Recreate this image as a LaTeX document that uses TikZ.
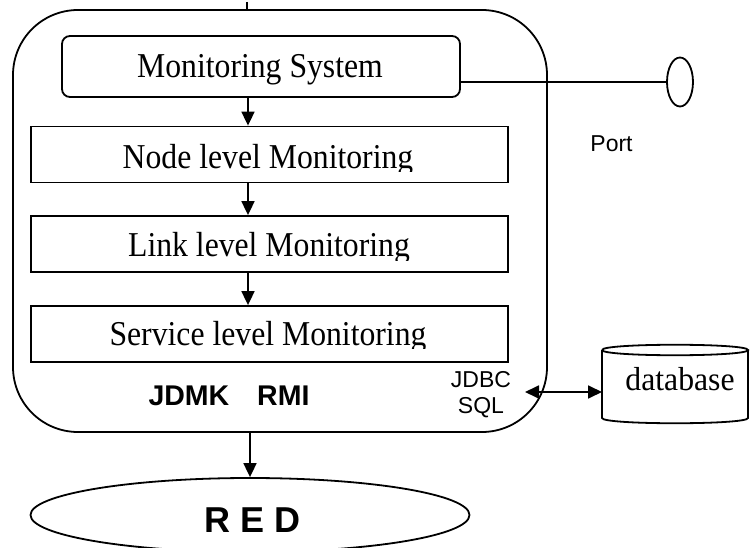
\documentclass[tikz,border=0pt]{standalone}
\usepackage{fontspec}
\setmainfont{Liberation Serif}
\setsansfont{Liberation Sans}
\usetikzlibrary{arrows.meta,shapes.geometric}
\begin{document}
\begin{tikzpicture}[x=1pt,y=-1pt,line width=1.8pt,
  box/.style={draw,inner sep=0pt,minimum width=477pt,minimum height=56pt},
  boxtext/.style={inner sep=0pt,anchor=base,font=\fontsize{31.7}{36}\selectfont},
  lbl/.style={inner sep=0pt,font=\sffamily\fontsize{23}{26}\selectfont},
  arr/.style={-{Triangle[length=14pt,width=13pt]}},
  darr/.style={{Triangle[length=14pt,width=13pt]}-{Triangle[length=14pt,width=13pt]}}]
\useasboundingbox (0,0) rectangle (750,548);
% outer container
\node[draw,rounded corners=65pt,minimum width=534pt,minimum height=422pt,inner sep=0pt] (outer) at (280,221) {};
\coordinate (ax) at (248,0);
\coordinate (tick) at (247,2);
\draw (tick) -- (tick |- outer.north);
% monitoring system
\node[draw,rounded corners=8pt,minimum width=398pt,minimum height=61pt,inner sep=0pt] (ms) at (261,66.5) {};
\node[boxtext] (mst) at (260,78) {\scalebox{1}[1.1]{Monitoring System}};
% levels
\node[box] (nl) at (269.5,154.5) {};
\node[box] (ll) at (269.5,244) {};
\node[box] (sl) at (269.5,334) {};
\begin{scope}
\clip (31,128) rectangle (508,172);
\node[boxtext] (nlt) at (268,169) {\scalebox{1}[1.1]{Node level Monitoring}};
\end{scope}
\begin{scope}
\clip (31,216) rectangle (508,261);
\node[boxtext] (llt) at (269,257) {\scalebox{1}[1.1]{Link level Monitoring}};
\end{scope}
\begin{scope}
\clip (31,306) rectangle (508,348.5);
\node[boxtext] (slt) at (268,345) {\scalebox{1}[1.1]{Service level Monitoring}};
\end{scope}
\draw[arr] (ms.south -| ax) -- (nl.north -| ax);
\draw[arr] (nl.south -| ax) -- (ll.north -| ax);
\draw[arr] (ll.south -| ax) -- (sl.north -| ax);
% port
\node[draw,ellipse,minimum width=26pt,minimum height=49pt,inner sep=0pt] (port) at (680,82) {};
\draw (ms.east |- port.west) -- (port.west);
\node[lbl,anchor=base] (portl) at (611.5,152) {Port};
% labels inside container
\node[inner sep=0pt,anchor=base,font=\sffamily\bfseries\fontsize{28.5}{32}\selectfont] (jr) at (229,405) {JDMK\hspace{28pt}RMI};
\node[lbl,anchor=base] (jdbc) at (481,387) {JDBC};
\node[lbl,anchor=base] (sql) at (481,413) {SQL};
% database
\draw (602,350) .. controls (602,343) and (748,343) .. (748,350) .. controls (748,357) and (602,357) .. (602,350);
\draw (602,350) -- (602,418) .. controls (602,425) and (748,425) .. (748,418) -- (748,350);
\coordinate (db) at (602,392);
\node[boxtext] (dbt) at (680,390) {\scalebox{1}[1.05]{database}};
\coordinate (dbl) at (525,392);
\draw[darr] (dbl) -- (db);
% RED
\node[draw,ellipse,minimum width=439pt,minimum height=74pt,inner sep=0pt] (red) at (250,515) {};
\node[inner sep=0pt,anchor=base,font=\sffamily\bfseries\fontsize{36}{40}\selectfont] (redt) at (253,532) {R E D};
\draw[arr] (red.north |- outer.south) -- (red.north);
\end{tikzpicture}
\end{document}
